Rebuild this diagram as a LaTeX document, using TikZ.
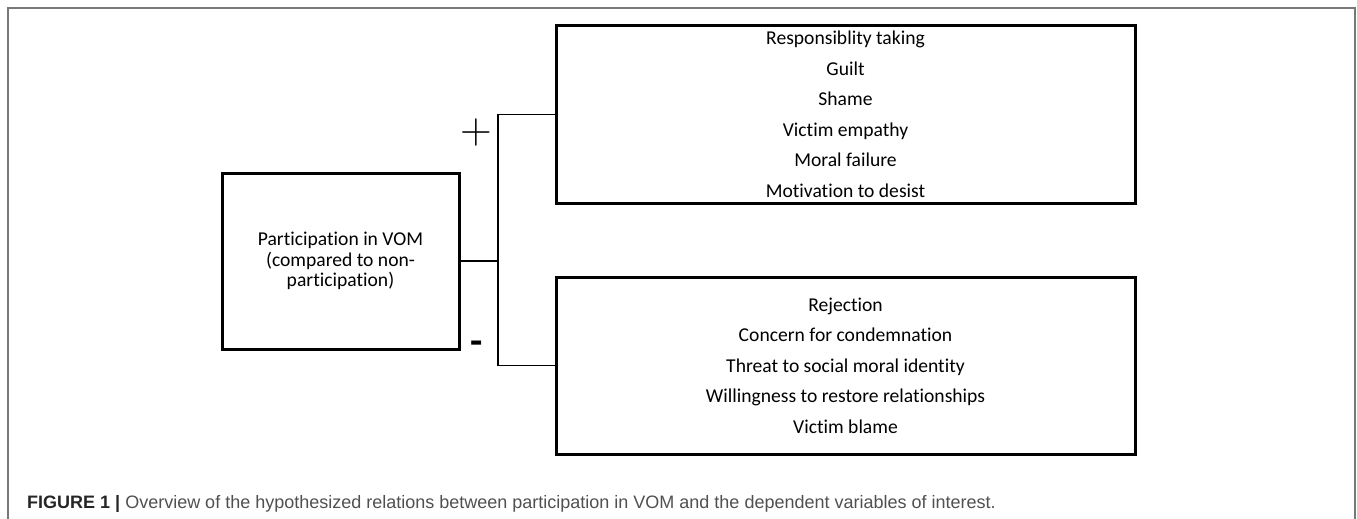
\documentclass[tikz,border=0pt]{standalone}
\usepackage{fontspec}
\setmainfont{Carlito}[Ligatures=NoCommon]
\newfontfamily\capfont{Liberation Sans}
\newfontfamily\signfont{Latin Modern Roman}
\usetikzlibrary{positioning}

\definecolor{framegray}{RGB}{120,120,120}
\definecolor{capgray}{RGB}{80,80,80}

\begin{document}
\begin{tikzpicture} [x=1pt,y=-1pt,
			var box/.style={draw,rectangle,line width=3pt,inner sep=0pt,outer sep=0pt,minimum width=579pt,minimum height=177pt,align=center,font=\fontsize{19.6}{30.5}\selectfont},
			source box/.style={draw,rectangle,line width=3pt,inner sep=0pt,outer sep=0pt,minimum width=237pt,minimum height=176pt,align=center,font=\fontsize{19.6}{20.8}\selectfont},
			link/.style={line width=1.8pt},
			sign/.style={inner sep=0pt}]
			\useasboundingbox (0,0) rectangle (1357,519);
			\draw[framegray,line width=1.5pt] (8,519) |- (1355,8) -- (1355,519);

			\node[source box] (part) at (340.5,261) {Participation in VOM\\(compared to non-\\participation)};
			\node[var box] (pos) at (845.5,114.5) {Responsiblity taking\\Guilt\\Shame\\Victim empathy\\Moral failure\\Motivation to desist};
			\node[var box] (neg) [below=74pt of pos] {Rejection\\Concern for condemnation\\Threat to social moral identity\\Willingness to restore relationships\\Victim blame};

			\coordinate (fork) at (498,261);
			\draw[link] (part.east) -- (fork);
			\draw[link] (pos.west) -| (fork) |- (neg.west);
			\node[sign,font=\signfont\fontsize{44}{44}\selectfont] (plus) at (476,133) {+};
			\node[sign,font=\fontsize{40}{40}\selectfont\bfseries] (minus) at (477,348) {-};

			\node[anchor=base west,inner sep=0pt,text=capgray,font=\capfont\fontsize{18}{20}\selectfont] (caption) at (27,508) {\textcolor{black!85}{\bfseries FIGURE 1 |} Overview of the hypothesized relations between participation in VOM and the dependent variables of interest.};
		\end{tikzpicture}
\end{document}
